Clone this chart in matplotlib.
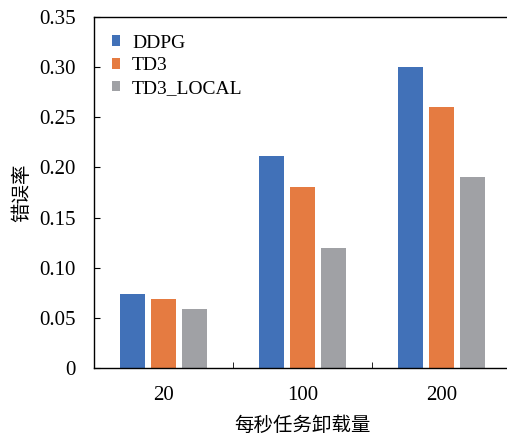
import numpy as np
import matplotlib
matplotlib.use("Agg")
import matplotlib.pyplot as plt

plt.rcParams['font.family'] = ['Liberation Serif', 'Noto Sans CJK SC']

loads = ['20', '100', '200']
series = ['DDPG', 'TD3', 'TD3_LOCAL']
ddpg = [0.074, 0.211, 0.300]
td3 = [0.069, 0.180, 0.260]
td3_local = [0.059, 0.120, 0.190]
colors = ['#4171B8', '#E57B41', '#A0A1A5']

fig = plt.figure(figsize=(5.07, 4.34), dpi=100)
ax = fig.add_axes([94 / 507, 1 - 368 / 434, 417 / 507, 351 / 434])

x = np.arange(len(loads))
step, width = 0.223, 0.173
for i, (name, vals) in enumerate(zip(series, [ddpg, td3, td3_local])):
    ax.bar(x + (i - 1) * step, vals, width, color=colors[i], label=name)

ax.set_xlim(-0.5, 2.5)
ax.set_ylim(0, 0.35)
ax.set_yticks(np.arange(0, 0.351, 0.05))
ax.set_yticklabels(['0'] + ['%.2f' % v for v in np.arange(0.05, 0.351, 0.05)])
ax.set_xticks(x)
ax.set_xticklabels(loads)
ax.set_xticks([0.5, 1.5], minor=True)
ax.tick_params(axis='x', which='major', length=0, labelsize=15, pad=13)
ax.tick_params(axis='x', which='minor', direction='in', length=4)
ax.tick_params(axis='y', direction='in', length=4, labelsize=15, pad=13)

for s in ['left', 'bottom', 'top']:
    ax.spines[s].set_linewidth(1)
ax.spines['right'].set_visible(False)

ax.set_xlabel('每秒任务卸载量', fontsize=14, labelpad=8)
ax.set_ylabel('错误率', fontsize=14, labelpad=6)

ax.legend(loc='upper left', frameon=False, fontsize=14, handlelength=0.45,
          handleheight=0.45, handletextpad=0.6, labelspacing=0.3,
          borderaxespad=0.5, bbox_to_anchor=(0.0, 1.0))

fig.savefig('out.png', dpi=100)
